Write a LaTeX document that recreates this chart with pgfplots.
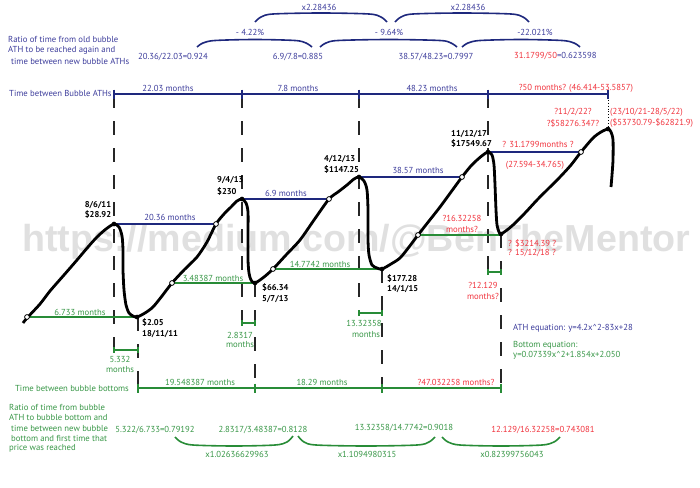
\documentclass[border=0pt]{standalone}
\usepackage{fontspec}
\setmainfont{PT Sans}
\newfontfamily\wmfont{Liberation Sans}
\usepackage{graphicx}
\usepackage{pgfplots}
\pgfplotsset{compat=1.18}
\definecolor{navyline}{RGB}{30,40,125}
\definecolor{navytext}{RGB}{60,60,155}
\definecolor{grline}{RGB}{40,140,55}
\definecolor{grtext}{RGB}{55,150,70}
\definecolor{redtext}{RGB}{240,50,60}
\definecolor{wm}{RGB}{224,224,224}
\tikzset{
 tx/.style={font=\fontsize{8.7}{10}\selectfont, inner sep=0pt},
 nv/.style={tx, text=navytext},
 gr/.style={tx, text=grtext},
 rd/.style={tx, text=redtext},
 bk/.style={font=\fontsize{8.5}{10}\selectfont\bfseries, inner sep=0pt, text=black},
}
\begin{document}
\begin{tikzpicture}
\begin{axis}[scale only axis, width=700pt, height=487pt,
  xmin=0, xmax=700, ymin=0, ymax=487, y dir=reverse,
  hide axis, clip=false]
% extent
\addplot[draw=none] coordinates {(0,0) (700,487)};
% watermark
\node[anchor=base west, inner sep=0pt, text=wm] at (22,251) {\resizebox{668pt}{!}{\wmfont\bfseries https://medium.com/@BenTheMentor}};

% ---------- top braces ----------
\addplot[navyline, line width=1.6, smooth] coordinates {(197,47) (203,43) (215,40.5) (255,39.5) (295,40.5) (306,43) (312,47)};
\addplot[navyline, line width=1.6, smooth] coordinates {(320,47) (326,43) (338,40.5) (389,39.5) (440,40.5) (451,43) (457,47)};
\addplot[navyline, line width=1.6, smooth] coordinates {(462,47) (468,43) (480,40.5) (521,39.5) (562,40.5) (574,43) (580,47)};
\addplot[navyline, line width=1.6, smooth] coordinates {(255,22) (261,17) (273,14) (321,13) (369,14) (381,17) (387,22)};
\addplot[navyline, line width=1.6, smooth] coordinates {(395,22) (401,17) (413,14) (462,13) (511,14) (523,17) (529,22)};

% ---------- bottom braces ----------
\addplot[grline, line width=1.6, smooth] coordinates {(175,437) (181,442) (193,445) (234,446) (275,445) (287,442) (293,436)};
\addplot[grline, line width=1.6, smooth] coordinates {(298,436) (304,442) (316,445) (366,446) (417,445) (429,442) (435,437)};
\addplot[grline, line width=1.6, smooth] coordinates {(442,437) (448,442) (460,445) (501,446) (542,445) (554,442) (560,437)};

% ---------- timelines ----------
\addplot[navyline, line width=1.8, mark=|, mark size=4.5, mark options={line width=1.5}] coordinates {(114,94) (242,94) (359,94) (488,94) (608,94)};
\addplot[grline, line width=1.8, mark=|, mark size=4.5, mark options={line width=1.5}] coordinates {(138,388) (255,388) (382,388) (501,388)};

% ---------- dashed verticals ----------
\pgfplotsset{dsh/.style={black!85, line width=1.2, dash pattern=on 14pt off 13pt}}
\addplot[dsh] coordinates {(114,94) (114,350)};
\addplot[dsh] coordinates {(242,94) (242,323)};
\addplot[dsh] coordinates {(359,94) (359,313)};
\addplot[dsh] coordinates {(488,94) (488,272)};
\addplot[dsh] coordinates {(138,317) (138,388)};
\addplot[dsh] coordinates {(255,283) (255,388)};
\addplot[dsh] coordinates {(382,269) (382,388)};
\addplot[dsh] coordinates {(501,234) (501,388)};
\addplot[black, line width=0.9, dotted] coordinates {(608,94) (608,129)};

% ---------- small brackets ----------
\addplot[grline, line width=1.5, mark=|, mark size=3, mark options={line width=1.2}] coordinates {(114,350) (138,350)};
\addplot[grline, line width=1.5, mark=|, mark size=3, mark options={line width=1.2}] coordinates {(242,323) (255,323)};
\addplot[grline, line width=1.5, mark=|, mark size=3, mark options={line width=1.2}] coordinates {(359,313) (382,313)};
\addplot[grline, line width=1.5, mark=|, mark size=3, mark options={line width=1.2}] coordinates {(488,272) (501,272)};

% ---------- connecting lines ----------
\addplot[navyline, line width=1.4] coordinates {(114,224) (216,224)};
\addplot[navyline, line width=1.4] coordinates {(242,199) (329,199)};
\addplot[navyline, line width=1.4] coordinates {(359,177) (462,177)};
\addplot[navyline, line width=1.4] coordinates {(488,152) (581,152)};
\addplot[grline, line width=1.4] coordinates {(27,317) (137,317)};
\addplot[grline, line width=1.4] coordinates {(172,283) (255,283)};
\addplot[grline, line width=1.4] coordinates {(273,269) (382,269)};
\addplot[grline, line width=1.4] coordinates {(418,235) (501,235)};

% ---------- price curve ----------
\addplot[black, line width=2.8, smooth, tension=0.45] coordinates {
(23,323) (27,318) (40,304) (50,291) (64,275) (77,260) (88,247) (97,237) (106,229) (114,224)
(119,227) (122,236) (123,250) (123,270) (124,290) (126,305) (129,313) (133,316) (137,317)
(145,313) (153,307) (162,296) (172,283) (184,270) (197,257) (207,242) (216,224) (224,214) (231,207) (237,201) (242,199)
(246,203) (248,212) (248,235) (248,260) (249,273) (251,280) (255,283)
(264,277) (273,269) (286,255) (300,240) (314,220) (329,199) (338,192) (347,185) (354,179) (359,177)
(364,181) (367,190) (368,210) (368,240) (369,255) (372,265) (377,268) (382,269)
(391,264) (400,258) (409,247) (418,235) (429,221) (440,207) (451,192) (462,177) (470,167) (477,160) (483,155) (488,152)
(492,155) (494,165) (495,185) (496,210) (497,225) (499,232) (501,234)
(507,230) (513,225) (525,213) (537,200) (549,188) (560,177) (571,165) (581,152) (593,138) (601,132) (608,129)
(611,132) (613,140) (613,160) (612,175) (611,187)};

% ---------- markers ----------
\addplot[only marks, mark=*, mark size=2.1, black] coordinates {(114,224) (137,317) (242,199) (255,283) (359,177) (382,269) (488,152) (501,234) (608,129)};
\addplot[only marks, mark=*, mark size=2.4, mark options={fill=white, draw=black, line width=0.8}] coordinates {(27,317) (172,283) (216,224) (273,269) (329,199) (418,235) (462,177) (581,152)};

% ---------- navy text ----------
\node[nv, anchor=west] at (8,39) {Ratio of time from old bubble};
\node[nv, anchor=west] at (8,50) {ATH to be reached again and};
\node[nv, anchor=west] at (11,61) {time between new bubble ATHs};
\node[nv] at (173,57) {20.36/22.03=0.924};
\node[nv] at (298,57) {6.9/7.8=0.885};
\node[nv] at (436,57) {38.57/48.23=0.7997};
\node[tx, anchor=west] at (514,56) {\textcolor{redtext}{31.1799/50}\textcolor{navytext}{=0.623598}};
\node[nv] at (250,32) {- 4.22\%};
\node[nv] at (389,32) {- 9.64\%};
\node[nv] at (535,32) {-22.021\%};
\node[nv] at (319,7) {x2.28436};
\node[nv] at (468,7) {x2.28436};
\node[nv, anchor=west] at (9,93) {Time between Bubble ATHs};
\node[nv] at (168,88) {22.03 months};
\node[nv] at (298,88) {7.8 months};
\node[nv] at (432,88) {48.23 months};
\node[rd] at (576,88) {?50 months? (46.414-53.5857)};
\node[nv] at (170,217) {20.36 months};
\node[nv] at (286,193) {6.9 months};
\node[nv] at (418,170) {38.57 months};
\node[nv, anchor=west] at (513,328) {ATH equation: y=4.2x\textasciicircum 2-83x+28};

% ---------- red text ----------
\node[rd] at (538,144) {? 31.1799months ?};
\node[rd] at (535,165) {(27.594-34.765)};
\node[rd] at (573,112) {?11/2/22?};
\node[rd] at (573,123) {?\$58276.347?};
\node[rd, anchor=west] at (610,112) {(23/10/21-28/5/22)};
\node[rd, anchor=west] at (610,123) {(\$53730.79-\$62821.9)};
\node[rd] at (462,218) {?16.32258};
\node[rd] at (462,229) {months?};
\node[rd, anchor=west] at (508,243) {? \$3214.39 ?};
\node[rd, anchor=west] at (508,253) {? 15/12/18 ?};
\node[rd] at (483,285) {?12.129};
\node[rd] at (483,296) {months?};
\node[rd] at (456,382) {?47.032258 months?};
\node[rd] at (543,430) {12.129/16.32258=0.743081};

% ---------- black labels ----------
\node[bk] at (98,205) {8/6/11};
\node[bk] at (98,215) {\$28.92};
\node[bk, anchor=west] at (142,323) {\$2.05};
\node[bk, anchor=west] at (142,334) {18/11/11};
\node[bk, anchor=west] at (217,180) {9/4/13};
\node[bk, anchor=west] at (217,192) {\$230};
\node[bk, anchor=west] at (262,288) {\$66.34};
\node[bk, anchor=west] at (262,299) {5/7/13};
\node[bk, anchor=west] at (324,159) {4/12/13};
\node[bk, anchor=west] at (324,170) {\$1147.25};
\node[bk, anchor=west] at (387,279) {\$177.28};
\node[bk, anchor=west] at (387,289) {14/1/15};
\node[bk, anchor=west] at (451,134) {11/12/17};
\node[bk, anchor=west] at (451,144) {\$17549.67};

% ---------- green text ----------
\node[gr] at (80,312) {6.733 months};
\node[gr] at (213,278) {3.48387 months};
\node[gr] at (320,264) {14.7742 months};
\node[gr] at (120,359) {5.332};
\node[gr] at (120,370) {months};
\node[gr] at (240,335) {2.8317};
\node[gr] at (240,345) {months};
\node[gr] at (364,323) {13.32358};
\node[gr] at (366,335) {months};
\node[gr, anchor=west] at (513,345) {Bottom equation:};
\node[gr, anchor=west] at (513,355) {y=0.07339x\textasciicircum 2+1.854x+2.050};
\node[gr] at (72,388) {Time between bubble bottoms};
\node[gr] at (200,382) {19.548387 months};
\node[gr] at (322,382) {18.29 months};
\node[gr, anchor=west] at (9,407) {Ratio of time from bubble};
\node[gr, anchor=west] at (9,417) {ATH to bubble bottom and};
\node[gr, anchor=west] at (11,428) {time between new bubble};
\node[gr, anchor=west] at (11,438) {bottom and first time that};
\node[gr, anchor=west] at (9,448) {price was reached};
\node[gr] at (155,430) {5.322/6.733=0.79192};
\node[gr] at (263,430) {2.8317/3.48387=0.8128};
\node[gr] at (404,428) {13.32358/14.7742=0.9018};
\node[gr] at (237,454) {x1.02636629963};
\node[gr] at (367,454) {x1.1094980315};
\node[gr] at (512,454) {x0.82399756043};
\end{axis}
\end{tikzpicture}
\end{document}
